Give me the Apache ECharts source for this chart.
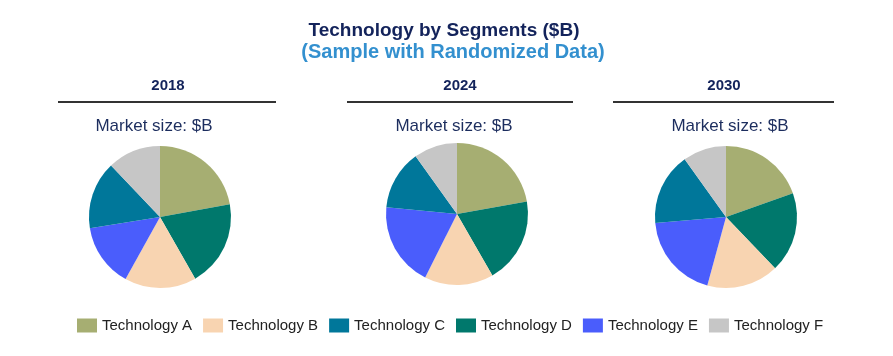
<!DOCTYPE html>
<html>
<head>
<meta charset="utf-8">
<script src="https://cdn.jsdelivr.net/npm/echarts@6/dist/echarts.min.js"></script>
<style>
html,body{margin:0;padding:0;background:#fff;}
#chart{width:893px;height:356px;}
</style>
</head>
<body>
<div id="chart"></div>
<script>
// ---- data ----
var categories = ['Technology A','Technology B','Technology C','Technology D','Technology E','Technology F'];
var colors = ['#a6ae72','#f8d4b1','#00779a','#00786c','#4a5dfc','#c6c6c6'];
var years = ['2018','2024','2030'];
var values2018 = [22.1, 16.3, 15.4, 19.6, 14.4, 12.1];
var values2024 = [22.2, 15.7, 13.6, 19.5, 19.1, 9.9];
var values2030 = [19.6, 16.4, 16.5, 18.3, 19.4, 9.9];
// clockwise slice order from 12 o'clock: A, D, B, E, C, F
var sliceOrder = [0, 3, 1, 4, 2, 5];
var titleText = 'Technology by Segments ($B)';
var subtitleText = '(Sample with Randomized Data)';
var marketLabel = 'Market size: $B';

var allValues = [values2018, values2024, values2030];
var FONT = 'Arial, "Liberation Sans", sans-serif';

var centers = [[160, 217], [457, 214], [726, 217]];
var yearX = [168, 460, 724];
var lineX = [[58, 276], [347, 573], [613, 834]];
var marketX = [154, 454, 730];

var series = allValues.map(function (vals, i) {
  return {
    type: 'pie',
    name: years[i],
    center: centers[i],
    radius: 71,
    startAngle: 90,
    clockwise: true,
    label: {show: false},
    labelLine: {show: false},
    emphasis: {disabled: true},
    silent: true,
    itemStyle: {borderWidth: 0},
    data: sliceOrder.map(function (k) {
      return {name: categories[k], value: vals[k], itemStyle: {color: colors[k]}};
    })
  };
});

var graphics = [
  {type: 'text', style: {text: titleText, x: 444, y: 31, textAlign: 'center', textVerticalAlign: 'middle', font: 'bold 19px ' + FONT, fill: '#13235b'}},
  {type: 'text', style: {text: subtitleText, x: 453, y: 52, textAlign: 'center', textVerticalAlign: 'middle', font: 'bold 20px ' + FONT, fill: '#3390cf'}}
];
years.forEach(function (y, i) {
  graphics.push({type: 'text', style: {text: y, x: yearX[i], y: 86, textAlign: 'center', textVerticalAlign: 'middle', font: 'bold 15px ' + FONT, fill: '#13235b'}});
  graphics.push({type: 'line', shape: {x1: lineX[i][0], y1: 102, x2: lineX[i][1], y2: 102}, style: {stroke: '#333333', lineWidth: 2}});
  graphics.push({type: 'text', style: {text: marketLabel, x: marketX[i], y: 126, textAlign: 'center', textVerticalAlign: 'middle', font: '17px ' + FONT, fill: '#1c2d5e'}});
});

var chart = echarts.init(document.getElementById('chart'), null, {renderer: 'canvas'});
chart.setOption({
  animation: false,
  backgroundColor: '#ffffff',
  legend: {
    data: categories,
    left: 72,
    top: 313,
    itemWidth: 20,
    itemHeight: 14,
    itemGap: 11,
    icon: 'rect',
    selectedMode: false,
    textStyle: {fontSize: 15, color: '#222222', fontFamily: FONT}
  },
  graphic: graphics,
  series: series
});
</script>
</body>
</html>
